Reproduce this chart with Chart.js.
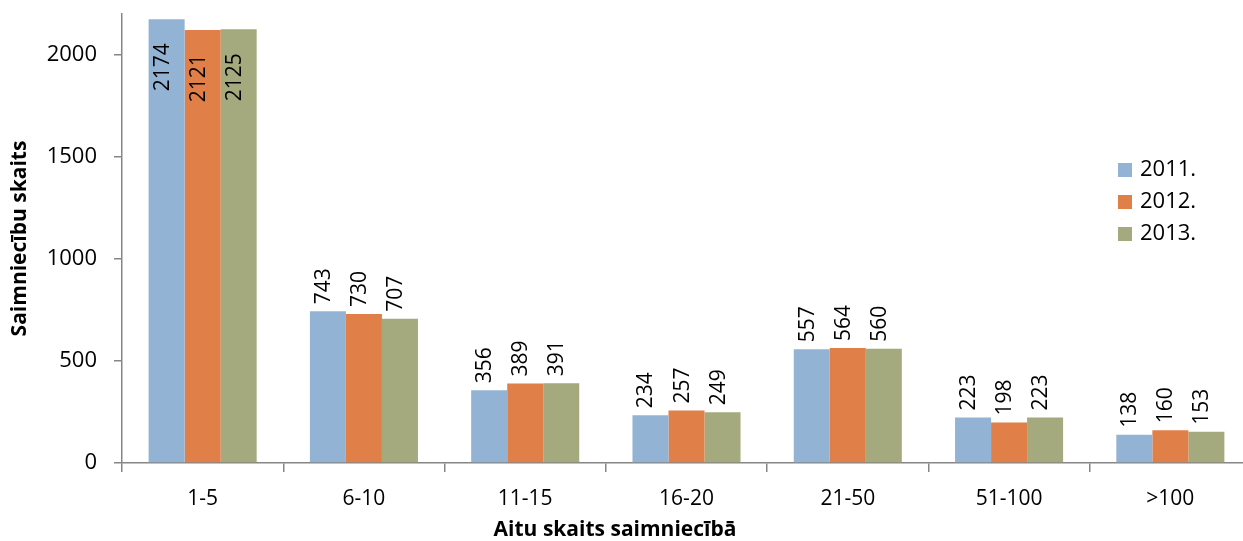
<!DOCTYPE html>
<html>
<head>
<meta charset="utf-8">
<script src="https://cdn.jsdelivr.net/npm/chart.js@4/dist/chart.umd.min.js"></script>
<style>
    html, body { margin: 0; padding: 0; background: #fff; overflow: hidden; }
    #wrap { position: relative; width: 1243px; height: 541px; overflow: hidden; }
    #legend { position: absolute; left: 1118px; top: 151px; font-family: "Open Sans", sans-serif; font-size: 22px; color: #000; }
    #legend div { height: 32px; line-height: 32px; white-space: nowrap; }
    #legend span { display: inline-block; width: 14px; height: 14px; margin-right: 8px; vertical-align: -1px; }
</style>
</head>
<body>
<div id="wrap">
    <canvas id="bar-chart" width="1251" height="541"></canvas>
    <div id="legend"></div>
</div>
<script>
// Data
var categories = ["1-5", "6-10", "11-15", "16-20", "21-50", "51-100", ">100"];
var years = ["2011.", "2012.", "2013."];
var values2011 = [2174, 743, 356, 234, 557, 223, 138];
var values2012 = [2121, 730, 389, 257, 564, 198, 160];
var values2013 = [2125, 707, 391, 249, 560, 223, 153];
var colors = ["#93B3D5", "#E07F47", "#A5AA7E"];
var yTicks = [0, 500, 1000, 1500, 2000];

var axisGray = "#868686";
var fontFamily = "'Open Sans', sans-serif";

// Rotated value labels
var valueLabels = {
    id: "valueLabels",
    afterDatasetsDraw: function(chart) {
        var ctx = chart.ctx;
        ctx.save();
        ctx.font = "21px " + fontFamily;
        ctx.fillStyle = "#000";
        ctx.textBaseline = "alphabetic";
        chart.data.datasets.forEach(function(ds, i) {
            chart.getDatasetMeta(i).data.forEach(function(bar, j) {
                var v = ds.data[j];
                ctx.save();
                if (v > 1500) {
                    // no room above the tallest bars, so put the label inside
                    ctx.translate(bar.x + 2, bar.y + 24);
                    ctx.rotate(-Math.PI / 2);
                    ctx.textAlign = "right";
                } else {
                    ctx.translate(bar.x + 2, bar.y - 7);
                    ctx.rotate(-Math.PI / 2);
                    ctx.textAlign = "left";
                }
                ctx.fillText(String(v), 0, 0);
                ctx.restore();
            });
        });
        ctx.restore();
    }
};

// X axis title (drawn off-centre as in the original)
var xTitle = {
    id: "xTitle",
    afterDraw: function(chart) {
        var ctx = chart.ctx;
        ctx.save();
        ctx.font = "bold 21px " + fontFamily;
        ctx.fillStyle = "#000";
        ctx.textAlign = "center";
        ctx.textBaseline = "middle";
        ctx.fillText("Aitu skaits saimniecībā", 615, 530);
        ctx.restore();
    }
};

// Chart Data
var chartData = {
    labels: categories,
    datasets: [
        { label: years[0], data: values2011, backgroundColor: colors[0] },
        { label: years[1], data: values2012, backgroundColor: colors[1] },
        { label: years[2], data: values2013, backgroundColor: colors[2] }
    ]
};

// Chart Options
var chartOptions = {
    responsive: false,
    animation: false,
    devicePixelRatio: 1,
    layout: { padding: { top: 14, right: 0, bottom: 0, left: 0 } },
    datasets: { bar: { categoryPercentage: 0.67, barPercentage: 1.0 } },
    plugins: {
        legend: { display: false },
        tooltip: { enabled: false }
    },
    scales: {
        x: {
            afterFit: function(s) { s.height = 78; s.paddingRight = 0; },
            border: { color: axisGray, width: 1.5 },
            grid: { offset: true, drawOnChartArea: false, color: axisGray, tickLength: 9, lineWidth: 1.5 },
            ticks: { color: "#000", padding: 14, font: { family: fontFamily, size: 21 } }
        },
        y: {
            min: 0,
            max: 2200,
            afterFit: function(s) { s.width = 122; s.paddingTop = 0; s.paddingBottom = 0; },
            afterBuildTicks: function(s) {
                s.ticks = yTicks.map(function(v) { return { value: v }; });
            },
            border: { color: axisGray, width: 1.5 },
            grid: { drawOnChartArea: false, color: axisGray, tickLength: 8, lineWidth: 1.5 },
            ticks: {
                color: "#000",
                padding: 17,
                font: { family: fontFamily, size: 22 },
                callback: function(v) { return String(v); }
            },
            title: {
                display: true,
                text: "Saimniecību skaits",
                color: "#000",
                padding: { top: 7, bottom: 0 },
                font: { family: fontFamily, size: 21, weight: "bold" }
            }
        }
    }
};

var config = {
    type: "bar",
    data: chartData,
    options: chartOptions,
    plugins: [valueLabels, xTitle]
};

// Create the chart
var barChart = new Chart(document.getElementById("bar-chart"), config);

// Legend
var legend = document.getElementById("legend");
chartData.datasets.forEach(function(ds) {
    var row = document.createElement("div");
    var box = document.createElement("span");
    box.style.background = ds.backgroundColor;
    row.appendChild(box);
    row.appendChild(document.createTextNode(ds.label));
    legend.appendChild(row);
});
</script>
</body>
</html>
